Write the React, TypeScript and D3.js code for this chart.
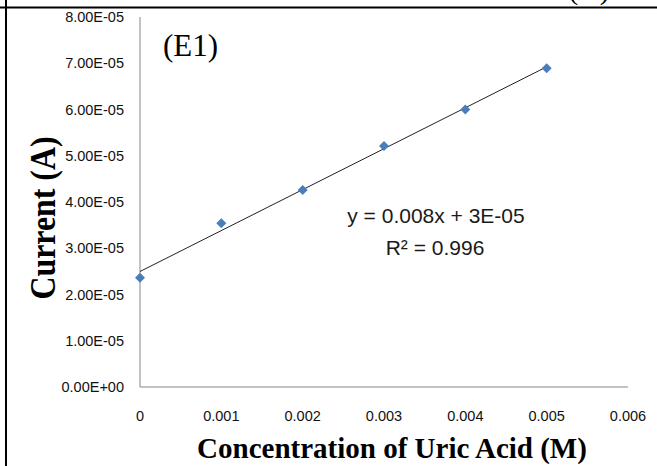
import React from "react";
import * as d3 from "d3";

// Uric acid calibration: concentration (M) vs. peak current (A)
const concentrations = [0, 0.001, 0.002, 0.003, 0.004, 0.005];
const currents = [2.36e-5, 3.54e-5, 4.26e-5, 5.21e-5, 6.0e-5, 6.89e-5];

const xTickValues = [0, 0.001, 0.002, 0.003, 0.004, 0.005, 0.006];
const xTickLabels = ["0", "0.001", "0.002", "0.003", "0.004", "0.005", "0.006"];
const yTickValues = [0, 1e-5, 2e-5, 3e-5, 4e-5, 5e-5, 6e-5, 7e-5, 8e-5];
const yTickLabels = [
  "0.00E+00", "1.00E-05", "2.00E-05", "3.00E-05", "4.00E-05",
  "5.00E-05", "6.00E-05", "7.00E-05", "8.00E-05",
];

const panelLabel = "(E1)";
const neighbourLabel = "(D)";
const equationText = "y = 0.008x + 3E-05";
const r2Text = "R\u00b2 = 0.996";
const xTitle = "Concentration of Uric Acid (M)";
const yTitle = "Current (A)";

const W = 657;
const H = 466;

export default function App() {
  const x = d3.scaleLinear().domain([0, 0.006]).range([140, 628]);
  const y = d3.scaleLinear().domain([0, 8e-5]).range([387, 17]);

  // least-squares fit for the trend line
  const mx = d3.mean(concentrations)!;
  const my = d3.mean(currents)!;
  const sxy = d3.sum(concentrations, (c, i) => (c - mx) * (currents[i] - my));
  const sxx = d3.sum(concentrations, (c) => (c - mx) * (c - mx));
  const slope = sxy / sxx;
  const intercept = my - slope * mx;
  const x0 = d3.min(concentrations)!;
  const x1 = d3.max(concentrations)!;
  const fitLine = d3.line<number>()
    .x((c) => x(c))
    .y((c) => y(intercept + slope * c))([x0, x1]);

  const r = 5;
  const diamond = (cx: number, cy: number) =>
    `M${cx},${cy - r}L${cx + r},${cy}L${cx},${cy + r}L${cx - r},${cy}Z`;

  const sans = "'Liberation Sans', Arial, sans-serif";
  const serif = "'Liberation Serif', 'Times New Roman', serif";
  const axisColor = "#868686";
  const tickColor = "#111";

  return (
    <svg
      width={W}
      height={H}
      viewBox={`0 0 ${W} ${H}`}
      style={{ position: "absolute", left: 0, top: 0, background: "#fff" }}
    >
      <rect x={0} y={0} width={W} height={H} fill="#fff" />

      {/* neighbouring panel's label, cut off by the frame */}
      <text x={589} y={-1} fontFamily={serif} fontSize={30} textAnchor="middle" fill="#000">
        {neighbourLabel}
      </text>

      {/* frame lines */}
      <line x1={0} x2={W} y1={7.5} y2={7.5} stroke="#000" strokeWidth={2} />
      <line x1={6} x2={6} y1={0} y2={H} stroke="#000" strokeWidth={2} />

      {/* axes */}
      <line x1={x(0)} x2={x(0)} y1={y(8e-5)} y2={y(0)} stroke={axisColor} strokeWidth={1} />
      <line x1={x(0)} x2={x(0.006)} y1={y(0)} y2={y(0)} stroke={axisColor} strokeWidth={1} />

      {yTickValues.map((v, i) => (
        <text
          key={`y${i}`}
          x={124}
          y={y(v)}
          dy="0.35em"
          textAnchor="end"
          fontFamily={sans}
          fontSize={14.5}
          fill={tickColor}
        >
          {yTickLabels[i]}
        </text>
      ))}
      {xTickValues.map((v, i) => (
        <text
          key={`x${i}`}
          x={x(v)}
          y={421}
          textAnchor="middle"
          fontFamily={sans}
          fontSize={14.5}
          fill={tickColor}
        >
          {xTickLabels[i]}
        </text>
      ))}

      {/* trend line */}
      <path d={fitLine ?? ""} fill="none" stroke="#222" strokeWidth={1} />

      {/* data points */}
      {concentrations.map((c, i) => (
        <path key={`p${i}`} d={diamond(x(c), y(currents[i]))} fill="#4A7EBB" />
      ))}

      {/* regression annotation */}
      <text x={436} y={223} textAnchor="middle" fontFamily={sans} fontSize={21} fill="#1a1a1a">
        {equationText}
      </text>
      <text x={435} y={255} textAnchor="middle" fontFamily={sans} fontSize={21} fill="#1a1a1a">
        {r2Text}
      </text>

      {/* panel label */}
      <text x={163} y={56} fontFamily={serif} fontSize={31} fill="#000">
        {panelLabel}
      </text>

      {/* axis titles */}
      <text
        x={392}
        y={458}
        textAnchor="middle"
        fontFamily={serif}
        fontWeight="bold"
        fontSize={29}
        fill="#000"
      >
        {xTitle}
      </text>
      <text
        transform={`translate(55,218) rotate(-90)`}
        textAnchor="middle"
        fontFamily={serif}
        fontWeight="bold"
        fontSize={36}
        textLength={163}
        lengthAdjust="spacingAndGlyphs"
        fill="#000"
      >
        {yTitle}
      </text>
    </svg>
  );
}
